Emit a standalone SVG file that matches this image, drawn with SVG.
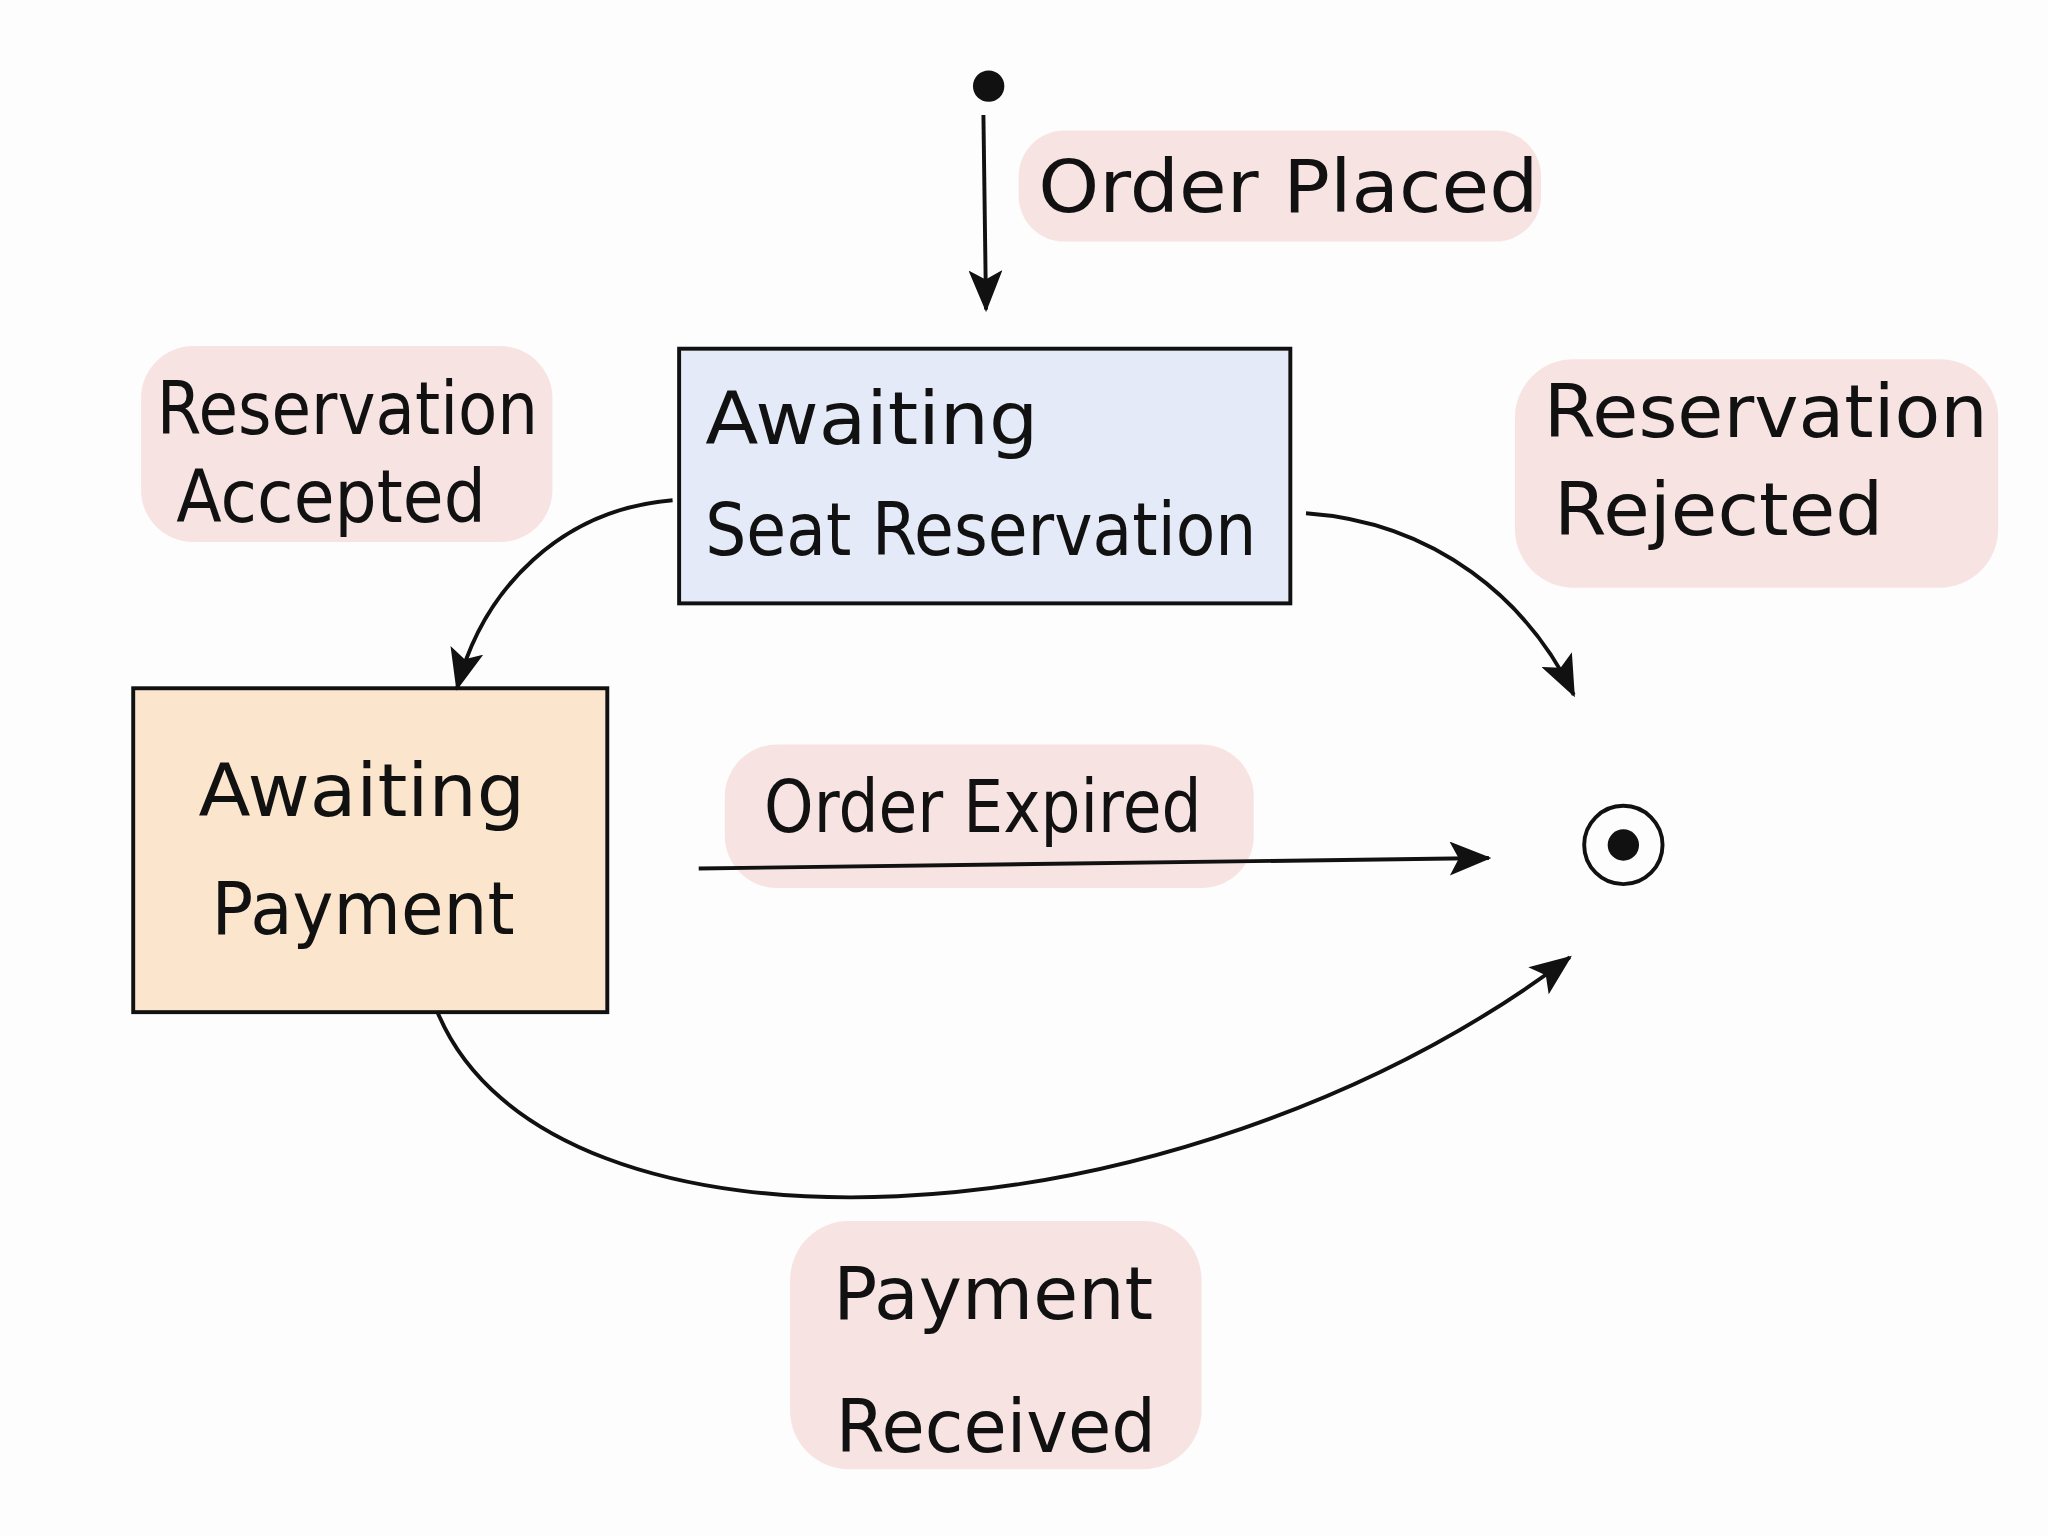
<svg xmlns="http://www.w3.org/2000/svg" width="2048" height="1536" viewBox="0 0 2048 1536">
<style>
.t{font-family:"DejaVu Sans",sans-serif;font-size:56px;fill:#111}
.hl{fill:#f7dede;opacity:0.85}
.c{fill:none;stroke:#111;stroke-width:3}
</style>
<defs>
<marker id="ah" viewBox="0 0 32 26" refX="30" refY="13" markerWidth="32" markerHeight="26" orient="auto" markerUnits="userSpaceOnUse">
<path d="M0,0 L32,13 L0,26 L7,13 Z" fill="#111"/>
</marker>
</defs>
<rect width="2048" height="1536" fill="#fdfdfd"/>
<g transform="scale(1.306)">
<g id="labels-bg">
<rect class="hl" x="780" y="100" width="400" height="85" rx="35"/>
<rect class="hl" x="108" y="265" width="315" height="150" rx="40"/>
<rect class="hl" x="1160" y="275" width="370" height="175" rx="45"/>
<rect class="hl" x="555" y="570" width="405" height="110" rx="40"/>
<rect class="hl" x="605" y="935" width="315" height="190" rx="45"/>
</g>
<g id="initial"><circle cx="757" cy="66" r="12" fill="#111"/></g>
<g id="awaiting-seat">
<rect x="520" y="267" width="468" height="195" fill="#e4eaf8" stroke="#111" stroke-width="3"/>
<text class="t" x="540" y="340" textLength="255" lengthAdjust="spacingAndGlyphs">Awaiting</text>
<text class="t" x="540" y="425" textLength="422" lengthAdjust="spacingAndGlyphs">Seat Reservation</text>
</g>
<g id="awaiting-payment">
<rect x="102" y="527" width="363" height="248" fill="#fbe5cc" stroke="#111" stroke-width="3"/>
<text class="t" x="152" y="625" textLength="250" lengthAdjust="spacingAndGlyphs">Awaiting</text>
<text class="t" x="162" y="715" textLength="232" lengthAdjust="spacingAndGlyphs">Payment</text>
</g>
<g id="final">
<circle cx="1243" cy="647" r="30" fill="none" stroke="#111" stroke-width="3"/>
<circle cx="1243" cy="647" r="12" fill="#111"/>
</g>
<g id="connectors">
<path class="c" d="M753,88 L755,237" marker-end="url(#ah)"/>
<path class="c" d="M515,383 C430,390 370,450 350,527" marker-end="url(#ah)"/>
<path class="c" d="M1000,393 C1100,400 1170,460 1205,532" marker-end="url(#ah)"/>
<path class="c" d="M535,665 L1140,657" marker-end="url(#ah)"/>
<path class="c" d="M335,775 C420,980 900,960 1202,733" marker-end="url(#ah)"/>
</g>
<g id="label-texts">
<text class="t" x="795" y="162" textLength="383" lengthAdjust="spacingAndGlyphs">Order  Placed</text>
<text class="t" x="120" y="332" textLength="292" lengthAdjust="spacingAndGlyphs">Reservation</text>
<text class="t" x="135" y="400" textLength="237" lengthAdjust="spacingAndGlyphs">Accepted</text>
<text class="t" x="1182" y="335" textLength="340" lengthAdjust="spacingAndGlyphs">Reservation</text>
<text class="t" x="1190" y="410" textLength="252" lengthAdjust="spacingAndGlyphs">Rejected</text>
<text class="t" x="585" y="637" textLength="335" lengthAdjust="spacingAndGlyphs">Order Expired</text>
<text class="t" x="638" y="1010" textLength="245" lengthAdjust="spacingAndGlyphs">Payment</text>
<text class="t" x="640" y="1112" textLength="245" lengthAdjust="spacingAndGlyphs">Received</text>
</g>
</g>
</svg>
